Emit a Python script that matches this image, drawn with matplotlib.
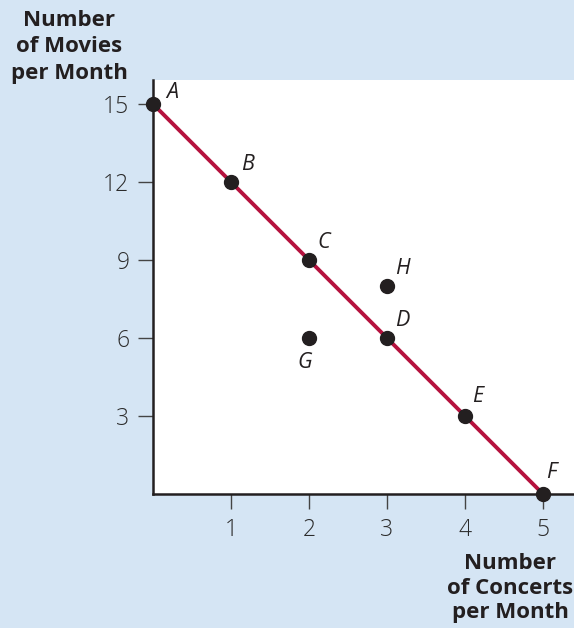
import matplotlib
matplotlib.use("Agg")
import matplotlib.pyplot as plt

# Budget line points and two off-line bundles
line_labels = ["A", "B", "C", "D", "E", "F"]
concerts = [0, 1, 2, 3, 4, 5]
movies = [15, 12, 9, 6, 3, 0]

extra_labels = ["G", "H"]
extra_concerts = [2, 3]
extra_movies = [6, 8]

x_ticks = [1, 2, 3, 4, 5]
y_ticks = [3, 6, 9, 12, 15]

BG = "#d5e5f4"
LINE = "#b5123e"
INK = "#231f20"

W, H = 574, 628
fig = plt.figure(figsize=(W / 100, H / 100), dpi=100, facecolor=BG)
left, right, bottom, top = 153, 574, 494, 80
ax = fig.add_axes([left / W, (H - bottom) / H, (right - left) / W, (bottom - top) / H])
ax.set_facecolor("white")

ax.set_xlim(0, (right - left) / 78.0)
ax.set_ylim(0, (bottom - top) / 26.0)

ax.plot(concerts, movies, color=LINE, lw=2.8, zorder=2, clip_on=False,
        solid_capstyle="butt")
ax.plot(concerts, movies, "o", color=INK, ms=10, zorder=3, clip_on=False)
ax.plot(extra_concerts, extra_movies, "o", color=INK, ms=10, zorder=3, clip_on=False)

label_font = dict(family="Open Sans", style="italic", fontsize=15.5, color=INK)
offsets = {"A": (13, 12), "B": (10, 17), "C": (8, 18), "D": (8, 17),
           "E": (7, 19), "F": (3, 21), "G": (-4, -24), "H": (8, 17)}
for name, x, y in zip(line_labels + extra_labels,
                      concerts + extra_concerts, movies + extra_movies):
    dx, dy = offsets[name]
    ax.annotate(name, (x, y), xytext=(dx * 0.72, dy * 0.72),
                textcoords="offset points", ha="left" if dx > 0 else "center",
                va="center", **label_font)

for side in ("top", "right"):
    ax.spines[side].set_visible(False)
for side in ("left", "bottom"):
    ax.spines[side].set_color(INK)
    ax.spines[side].set_linewidth(1.8)

ax.set_xticks(x_ticks)
ax.set_yticks(y_ticks)
ax.tick_params(axis="both", direction="out", length=11, width=1.0,
               color="#444444", labelcolor="#2b2b2b", labelsize=16.5, pad=6)
for lbl in ax.get_xticklabels() + ax.get_yticklabels():
    lbl.set_fontfamily("Open Sans")
    lbl.set_fontweight("light")

title_font = dict(family="Open Sans", weight="bold", fontsize=16, color=INK,
                  ha="center", va="center")
fig.text(69 / W, 1 - 47 / H, "Number\nof Movies\nper Month",
         linespacing=1.33, **title_font)
fig.text(510 / W, 1 - 588 / H, "Number\nof Concerts\nper Month",
         linespacing=1.24, **title_font)

fig.savefig("out.png", dpi=100, facecolor=BG)
